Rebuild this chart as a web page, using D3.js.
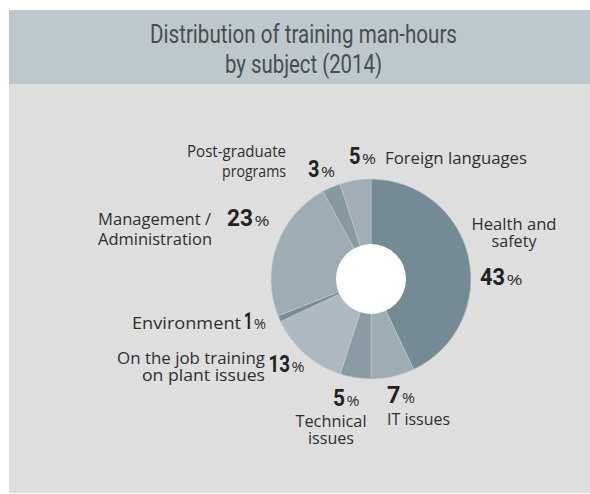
<!DOCTYPE html>
<html>
<head>
<meta charset="utf-8">
<script src="https://cdn.jsdelivr.net/npm/d3@7"></script>
<style>
  html, body { margin: 0; padding: 0; background: #ffffff; }
  svg { display: block; }
</style>
</head>
<body>
<svg id="chart" width="590" height="494"></svg>
<script>
// Training man-hours by subject, 2014 (shares in %), clockwise from 12 o'clock
const subjects = [
  "Health and safety",
  "IT issues",
  "Technical issues",
  "On the job training on plant issues",
  "Environment",
  "Management / Administration",
  "Post-graduate programs",
  "Foreign languages"
];
const shares = [43, 7, 5, 13, 1, 23, 3, 5];
const sliceColors = ["#748b96", "#9eacb4", "#899aa4", "#adb8c0", "#768c97", "#9eacb5", "#8698a2", "#a1aeb7"];

const titleLines = ["Distribution of training man-hours", "by subject (2014)"];

// Label layout per slice: text lines, line baselines, alignment, and the value label
const labelLayout = [
  { lines: ["Health and", "safety"], x: 514, ys: [230, 247], anchor: "middle", widths: [85, 45],
    num: { x: 480, y: 285, w: 25, pw: 16 } },
  { lines: ["IT issues"], x: 387, ys: [425], anchor: "start", widths: [63],
    num: { x: 387, y: 403, w: 13.5, pw: 13 } },
  { lines: ["Technical", "issues"], x: 331, ys: [427, 444], anchor: "middle", widths: [71, 46],
    num: { x: 333, y: 406, w: 12, pw: 13 } },
  { lines: ["On the job training", "on plant issues"], x: 265, ys: [364, 381], anchor: "end", widths: [148, 123],
    num: { x: 268.5, y: 372, w: 21.5, pw: 13 } },
  { lines: ["Environment"], x: 241, ys: [329], anchor: "end", widths: [109],
    num: { x: 244, y: 329, w: 8.5, pw: 12 } },
  { lines: ["Management /", "Administration"], x: 98, ys: [225, 245], anchor: "start", widths: [113, 114],
    num: { x: 227, y: 226, w: 26, pw: 15 } },
  { lines: ["Post-graduate", "programs"], x: 286, ys: [157, 177], anchor: "end", widths: [99, 64],
    num: { x: 308, y: 177, w: 11.5, pw: 14 } },
  { lines: ["Foreign languages"], x: 385, ys: [164], anchor: "start", widths: [142],
    num: { x: 349, y: 164, w: 11.5, pw: 14 } }
];

const svg = d3.select("#chart");
const labelFont = "'Open Sans', 'Noto Sans', sans-serif";
const textColor = "#2e2e2e";

// Panel: title band and body
svg.append("rect").attr("x", 9).attr("y", 10).attr("width", 581).attr("height", 74).attr("fill", "#bdc8cc");
svg.append("rect").attr("x", 9).attr("y", 84).attr("width", 581).attr("height", 409).attr("fill", "#dedede");

// Title (condensed look)
const titleSpecs = [{ y: 43, w: 307 }, { y: 73, w: 157 }];
titleLines.forEach((t, i) => {
  svg.append("text")
    .attr("x", 303.5).attr("y", titleSpecs[i].y)
    .attr("text-anchor", "middle")
    .attr("font-family", "Roboto, 'Open Sans', sans-serif")
    .attr("font-size", 25)
    .attr("fill", "#4a4d4f")
    .attr("textLength", titleSpecs[i].w)
    .attr("lengthAdjust", "spacingAndGlyphs")
    .text(t);
});

// Donut
const cx = 371, cy = 279, outerR = 100, innerR = 35;
const pie = d3.pie().value(d => d).sort(null);
const arc = d3.arc().innerRadius(0).outerRadius(outerR);
const arcs = pie(shares);

const g = svg.append("g").attr("transform", `translate(${cx},${cy})`);
g.selectAll("path.slice")
  .data(arcs)
  .join("path")
  .attr("class", "slice")
  .attr("d", arc)
  .attr("fill", (d, i) => sliceColors[i])
  .attr("stroke", "#c2cbd0")
  .attr("stroke-width", 0.6);

g.append("circle").attr("r", innerR).attr("fill", "#ffffff");

// Labels
labelLayout.forEach((L, i) => {
  L.lines.forEach((line, j) => {
    svg.append("text")
      .attr("x", L.x).attr("y", L.ys[j])
      .attr("text-anchor", L.anchor)
      .attr("font-family", labelFont)
      .attr("font-size", 15.5)
      .attr("fill", textColor)
      .attr("textLength", L.widths[j])
      .attr("lengthAdjust", "spacingAndGlyphs")
      .text(line);
  });
  const n = L.num;
  svg.append("text")
    .attr("x", n.x).attr("y", n.y)
    .attr("font-family", "Roboto, 'Open Sans', sans-serif")
    .attr("font-weight", 700)
    .attr("font-size", 23.5)
    .attr("fill", "#222222")
    .attr("textLength", n.w)
    .attr("lengthAdjust", "spacingAndGlyphs")
    .text(shares[i]);
  svg.append("text")
    .attr("x", n.x + n.w + 1.5).attr("y", n.y)
    .attr("font-family", labelFont)
    .attr("font-size", 15)
    .attr("fill", textColor)
    .attr("textLength", n.pw)
    .attr("lengthAdjust", "spacingAndGlyphs")
    .text("%");
});
</script>
</body>
</html>
